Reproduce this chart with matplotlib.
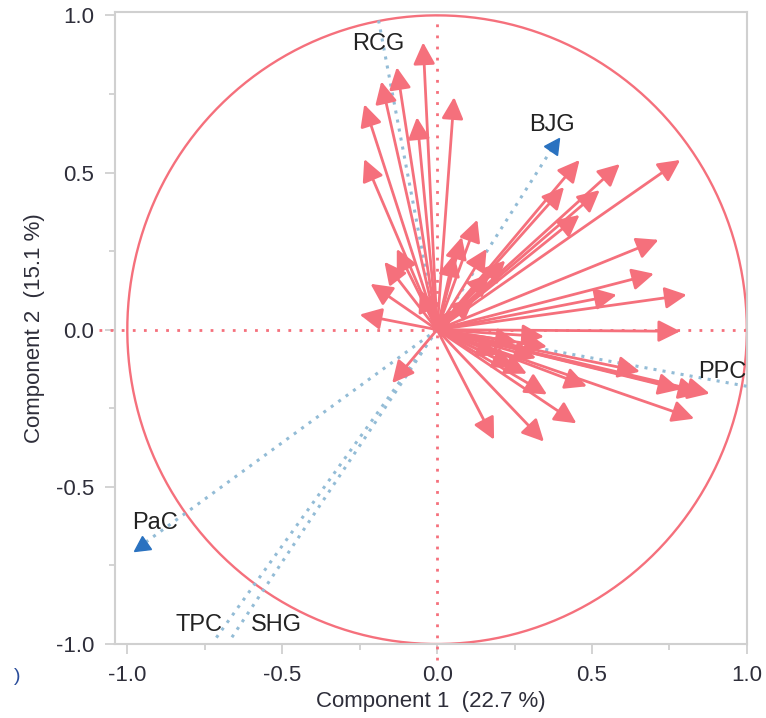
import matplotlib
matplotlib.use("Agg")
import matplotlib.pyplot as plt
import numpy as np
from matplotlib.markers import MarkerStyle
from matplotlib.transforms import Affine2D

plt.rcParams["font.family"] = ["Liberation Sans", "DejaVu Sans"]

# ── Loadings of the active variables (arrow tips) ─────────────────────────────
load_x = [-0.045, -0.13, -0.18, -0.235, -0.065, 0.055, -0.235, 0.13, 0.08, 0.055,
          0.16, -0.13, -0.17, -0.215, -0.25, -0.055, 0.05, 0.17, 0.46, 0.59,
          0.41, 0.525, 0.46, 0.785, 0.715, 0.70, 0.58, 0.806, 0.785, 0.345,
          0.29, 0.355, 0.484, 0.655, 0.785, 0.88, 0.85, 0.83, 0.45, 0.345,
          0.184, -0.145, 0.26, 0.355, 0.12, 0.22, 0.20, 0.32, 0.25]
load_y = [0.914, 0.835, 0.79, 0.717, 0.676, 0.74, 0.543, 0.35, 0.295, 0.24,
          0.257, 0.257, 0.216, 0.146, 0.048, 0.127, 0.063, 0.178, 0.54, 0.527,
          0.454, 0.444, 0.365, 0.54, 0.286, 0.178, 0.111, 0.111, -0.005, -0.022,
          -0.14, -0.206, -0.18, -0.133, -0.19, -0.203, -0.203, -0.283, -0.298, -0.356,
          -0.35, -0.17, -0.04, -0.054, 0.10, 0.22, -0.08, -0.09, -0.12]

# ── Supplementary variables (dotted blue) ─────────────────────────────────────
supp_names = ["RCG", "BJG", "PPC", "PaC", "TPC", "SHG"]
supp_x = [-0.19, 0.38, 1.00, -0.96, -0.72, -0.67]
supp_y = [0.99, 0.59, -0.18, -0.69, -0.99, -0.99]
supp_marker = [False, True, False, True, False, False]
label_x = [-0.19, 0.37, 0.92, -0.91, -0.77, -0.52]
label_y = [0.91, 0.65, -0.133, -0.616, -0.94, -0.94]

RED = "#f5707c"
BLUE_LINE = "#93bcd6"
BLUE_MARK = "#2a72c0"
TXT = "#2e2e3a"

fig = plt.figure(figsize=(7.66, 7.18), dpi=100)
ax = fig.add_axes([0.150, 0.103, 0.825, 0.880])

# unit circle
t = np.linspace(0, 2 * np.pi, 400)
ax.plot(np.cos(t), np.sin(t), color=RED, lw=1.7, zorder=2)

# zero lines
ax.plot([-1.09, 1.0], [0, 0], color=RED, lw=2, ls=(0, (1, 3)), clip_on=False, zorder=2)
ax.plot([0, 0], [-1.05, 1.0], color=RED, lw=2, ls=(0, (1, 3)), clip_on=False, zorder=2)

# supplementary variables
for name, sx, sy, mk, lx, ly in zip(supp_names, supp_x, supp_y, supp_marker, label_x, label_y):
    ax.plot([0, sx], [0, sy], color=BLUE_LINE, lw=2.2, ls=(0, (1, 2)), zorder=3)
    if mk:
        ang = np.degrees(np.arctan2(sy, sx)) - 90
        m = MarkerStyle("^", transform=Affine2D().rotate_deg(ang))
        ax.plot(sx, sy, marker=m, ms=11, color=BLUE_MARK, zorder=5)
    ax.text(lx, ly, name, fontsize=17, color="#222222", ha="center", va="center", zorder=6)

# active variable arrows
for x, y in zip(load_x, load_y):
    ax.annotate("", xy=(x, y), xytext=(0, 0),
                arrowprops=dict(arrowstyle="-|>,head_length=0.6,head_width=0.3",
                                color=RED, lw=2.0, mutation_scale=22,
                                shrinkA=0, shrinkB=0),
                zorder=4)

ax.set_xlim(-1.04, 1.0)
ax.set_ylim(-1.0, 1.01)
ax.set_xticks([-1.0, -0.5, 0.0, 0.5, 1.0])
ax.set_yticks([-1.0, -0.5, 0.0, 0.5, 1.0])
ax.set_xticks(np.arange(-1.0, 1.01, 0.25), minor=True)
ax.set_yticks(np.arange(-1.0, 1.01, 0.25), minor=True)
ax.set_xticklabels(["-1.0", "-0.5", "0.0", "0.5", "1.0"])
ax.set_yticklabels(["-1.0", "-0.5", "0.0", "0.5", "1.0"])
ax.tick_params(which="both", direction="out", color="#cccccc", labelcolor=TXT,
               labelsize=16, length=7, width=1.2, pad=8)
ax.tick_params(which="minor", length=4)
for s in ax.spines.values():
    s.set_color("#d0d0d0")
    s.set_linewidth(1.5)

ax.set_xlabel("Component 1  (22.7 %)", fontsize=16, color=TXT, labelpad=4)
ax.set_ylabel("Component 2  (15.1 %)", fontsize=16, color=TXT, labelpad=8)

fig.text(0.022, 0.058, ")", fontsize=14, color="#2a4d9b", ha="center", va="center")

fig.savefig("out.png", dpi=100)
